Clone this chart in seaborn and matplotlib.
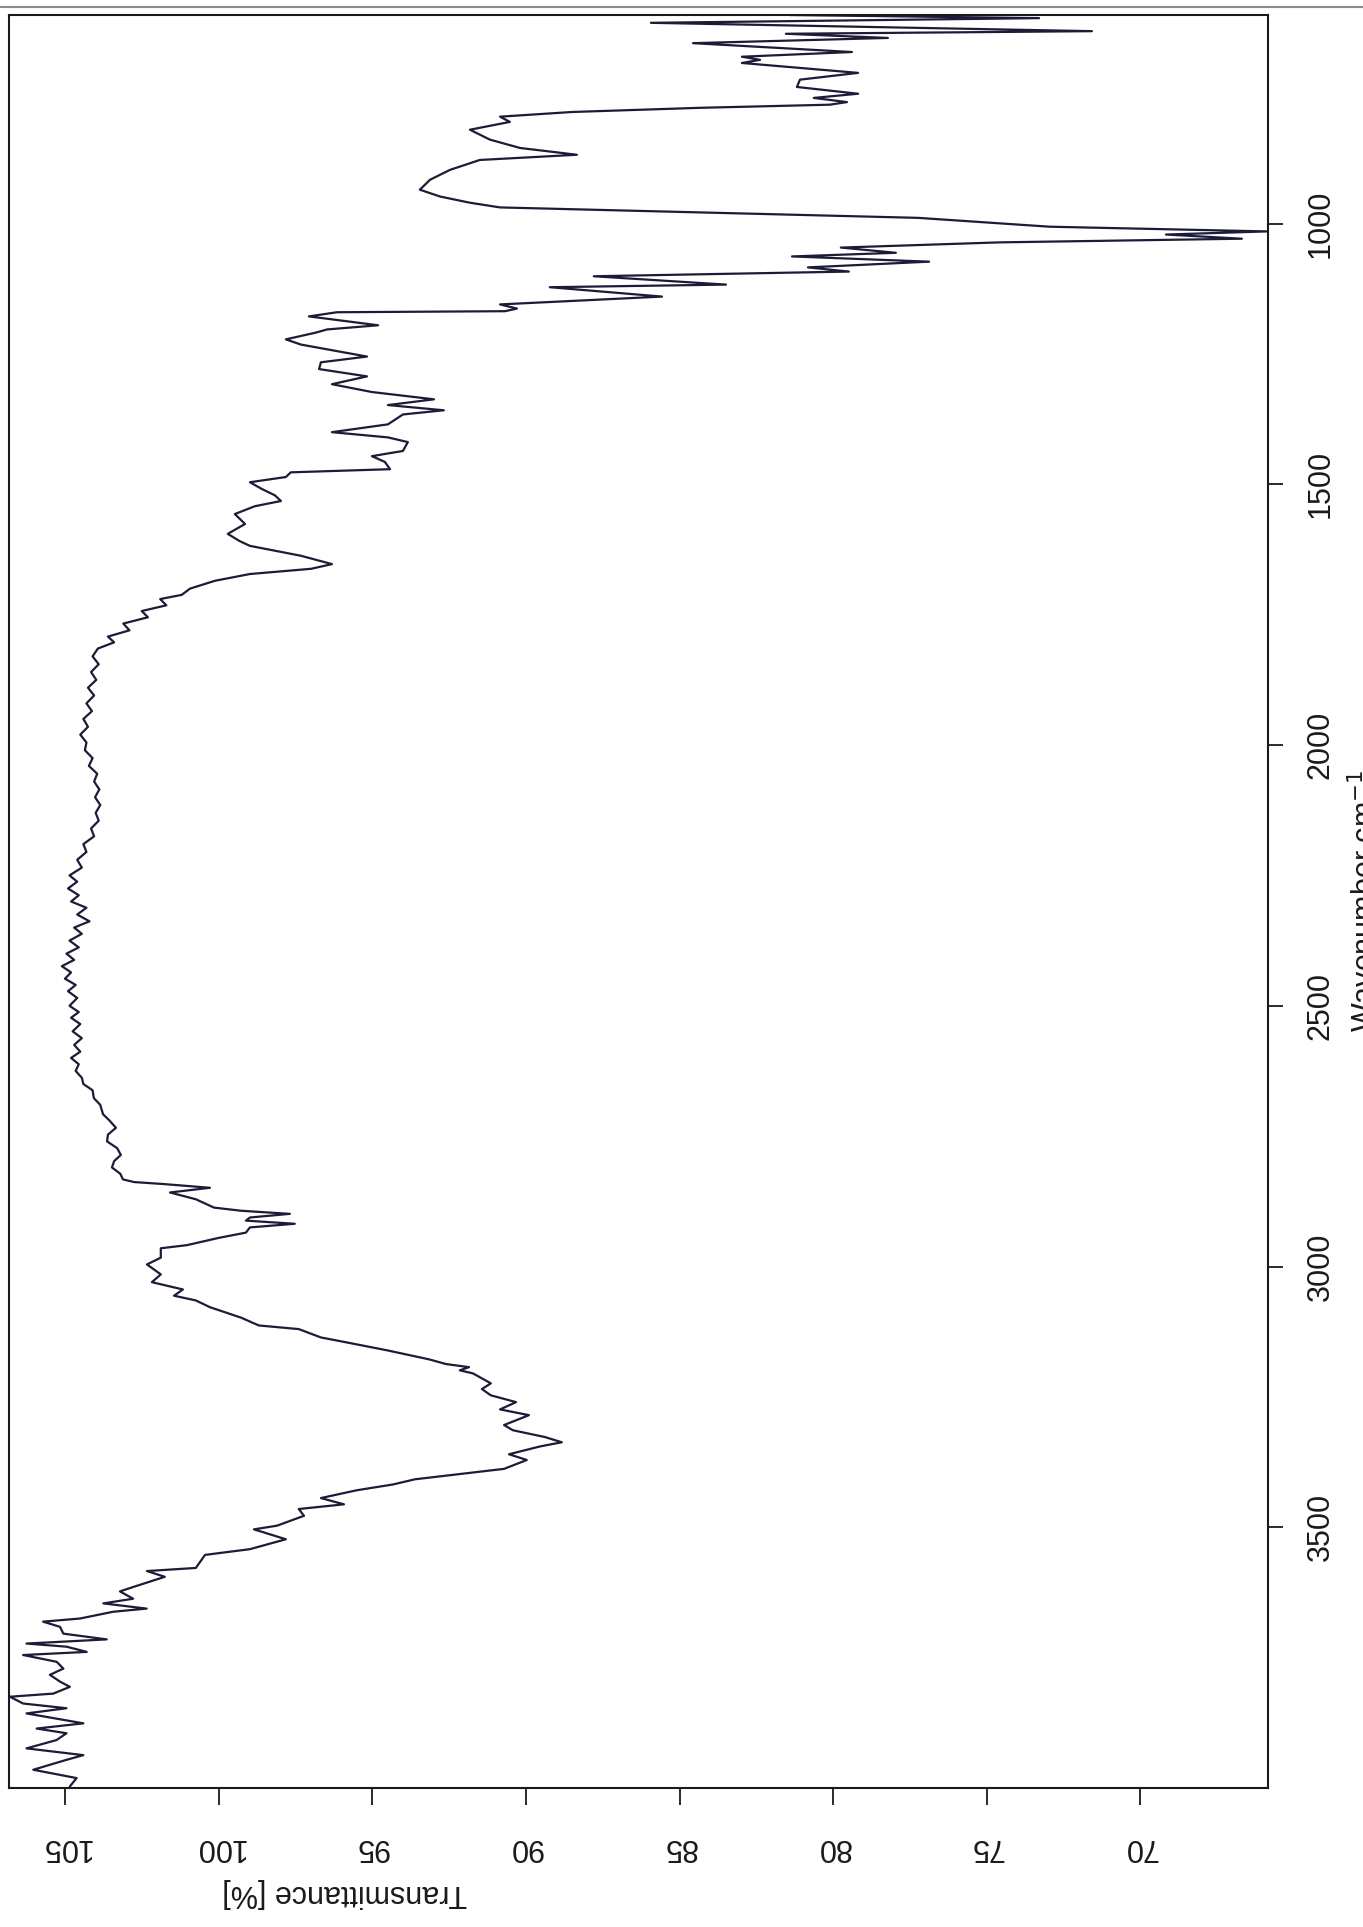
import matplotlib
matplotlib.use("Agg")
import matplotlib.pyplot as plt
from matplotlib.lines import Line2D
import numpy as np
import pandas as pd
import seaborn as sns

# ---- data (wavenumber in cm-1, transmittance in %) ----
fp_wn = [600, 606, 615, 631, 636, 644, 654, 671, 680, 686, 692, 711, 724, 738, 751, 759, 767, 772, 778, 786,
         795, 805, 820, 839, 855, 868, 878, 897, 916, 935, 948, 960, 969, 989, 1006, 1015, 1021, 1029, 1036, 1046,
         1056, 1063, 1073, 1084, 1092, 1101, 1117, 1122, 1140, 1155, 1163, 1168, 1170, 1178, 1195, 1203, 1209, 1222, 1232, 1255,
         1266, 1279, 1293, 1308, 1323, 1337, 1348, 1358, 1366, 1385, 1400, 1410, 1419, 1436, 1446, 1457, 1471, 1477, 1486, 1496,
         1509, 1521, 1532, 1542, 1557, 1576, 1595, 1609, 1618, 1637, 1653, 1662, 1672, 1685, 1700, 1712, 1720, 1732, 1743, 1755,
         1767, 1780, 1792, 1803]
fp_t = [81.41, 73.30, 85.93, 71.58, 81.54, 78.22, 84.56, 79.39, 82.97, 82.38, 82.97, 79.19, 81.08, 81.18, 79.19, 80.63, 79.55, 80.11, 84.34, 88.50,
        90.84, 90.52, 91.82, 91.17, 90.19, 88.34, 91.50, 92.47, 93.12, 93.45, 92.80, 91.82, 90.84, 77.24, 72.95, 65.89, 69.17, 66.70, 74.57, 79.75,
        77.96, 81.34, 76.88, 80.82, 79.49, 87.79, 83.49, 89.22, 85.57, 90.84, 90.29, 90.68, 96.15, 97.06, 94.81, 96.47, 96.83, 97.81, 97.32, 95.17,
        96.67, 96.73, 95.17, 96.31, 95.01, 92.99, 94.49, 92.67, 94.00, 94.49, 96.31, 94.49, 93.84, 94.00, 95.01, 94.59, 94.42, 97.65, 97.81, 98.98,
        98.59, 98.17, 97.97, 98.82, 99.47, 99.14, 99.70, 99.31, 98.98, 97.32, 96.31, 96.99, 98.98, 100.12, 100.93, 101.20, 101.90, 101.70, 102.50, 102.30,
        103.10, 102.90, 103.60, 103.40]

plat_wn = [1815, 1830, 1845, 1860, 1875, 1890, 1905, 1920, 1935, 1950, 1965, 1980, 1995, 2010, 2025, 2040, 2055, 2070, 2085, 2100,
           2115, 2130, 2145, 2160, 2175, 2190, 2205, 2220, 2235, 2250, 2262, 2275, 2288, 2300, 2312, 2325, 2338, 2350, 2362, 2375,
           2388, 2400, 2412, 2424, 2436, 2448, 2460, 2472, 2485, 2500, 2512, 2523, 2535, 2549, 2562, 2575, 2588, 2600, 2612, 2625,
           2638, 2650, 2662, 2677, 2690, 2708, 2720, 2734, 2747, 2760, 2773, 2786, 2798, 2810, 2822, 2833]
plat_t = [103.93, 104.10, 103.90, 104.15, 103.98, 104.25, 104.05, 104.30, 104.12, 104.40, 104.25, 104.50, 104.30, 104.35, 104.10, 104.22, 103.95, 104.05, 103.88, 104.02,
          103.85, 104.00, 103.90, 104.15, 104.05, 104.40, 104.30, 104.60, 104.45, 104.85, 104.60, 104.90, 104.55, 104.80, 104.30, 104.60, 104.20, 104.70, 104.45, 104.85,
          104.55, 104.95, 104.70, 105.10, 104.80, 105.00, 104.65, 104.90, 104.60, 104.85, 104.55, 104.80, 104.50, 104.75, 104.45, 104.70, 104.50, 104.80, 104.55, 104.65,
          104.45, 104.40, 104.10, 104.06, 103.85, 103.76, 103.55, 103.34, 103.60, 103.63, 103.30, 103.18, 103.40, 103.47, 103.20, 103.11]

ch_wn = [2838, 2842, 2849, 2858, 2871, 2887, 2893, 2899, 2906, 2912, 2918, 2925, 2935, 2945, 2959, 2965, 2983, 2996, 3015, 3030,
         3044, 3056, 3065, 3078, 3098, 3113, 3120, 3136, 3146, 3161, 3178, 3187, 3193, 3199, 3205, 3224, 3235, 3247, 3260, 3274,
         3285, 3304, 3314, 3327, 3337, 3345, 3360, 3371, 3388, 3398, 3408, 3418, 3429, 3444, 3456, 3465, 3478, 3497, 3504, 3523,
         3542, 3553, 3578, 3584, 3595, 3614, 3623]
ch_t = [102.75, 101.75, 100.28, 101.58, 100.74, 100.15, 99.27, 97.68, 98.98, 99.11, 97.52, 98.98, 99.11, 99.99, 101.03, 101.88, 101.88, 102.33, 101.88, 102.17,
        101.16, 101.45, 100.74, 100.28, 99.27, 98.69, 97.39, 96.67, 95.79, 94.49, 93.15, 92.60, 91.85, 92.15, 91.72, 91.14, 91.43, 91.14, 90.32, 90.84,
        89.90, 90.71, 90.42, 89.38, 88.83, 89.54, 90.55, 89.97, 90.71, 92.15, 93.61, 94.33, 95.50, 96.67, 95.92, 97.39, 97.22, 98.10, 98.85, 97.81,
        98.98, 100.44, 100.74, 102.33, 101.75, 102.75, 103.21]

hi_wn = [3637, 3646, 3656, 3662, 3675, 3681, 3691, 3704, 3715, 3723, 3729, 3739, 3745, 3758, 3771, 3783, 3796, 3806, 3819, 3825,
         3838, 3847, 3857, 3876, 3886, 3895, 3908, 3924, 3937, 3946, 3965, 3981, 3997]
hi_t = [102.78, 103.75, 102.34, 103.43, 104.51, 105.71, 105.16, 105.05, 103.64, 106.25, 104.95, 104.29, 106.36, 105.27, 105.05, 105.49, 105.16, 104.84, 105.38, 106.79,
        106.36, 104.95, 106.25, 104.40, 105.92, 104.95, 105.27, 106.25, 104.40, 104.95, 106.03, 104.62, 104.84]

t_ticks = [70, 75, 80, 85, 90, 95, 100, 105]
wn_ticks = [1000, 1500, 2000, 2500, 3000, 3500]
x_title = "Transmittance [%]"
y_title = "Wavenumber cm$^{-1}$"

# ---- build frame ----
df = pd.DataFrame({
    "wavenumber": fp_wn + plat_wn + ch_wn + hi_wn,
    "transmittance": fp_t + plat_t + ch_t + hi_t,
})

sns.set_theme(style="white")
plt.rcParams["font.family"] = ["Liberation Sans", "DejaVu Sans"]

W, H = 1363, 1927
fig = plt.figure(figsize=(W / 100, H / 100), dpi=100)
fig.patch.set_facecolor("white")
ax = fig.add_axes([9 / W, 1 - 1788 / H, 1259 / W, 1773 / H])
ax.set_facecolor("white")

sns.lineplot(data=df, x="transmittance", y="wavenumber", sort=False, orient="y",
             estimator=None, color="#1c1c38", linewidth=1.6, ax=ax)

ax.set_xlim(106.82, 65.85)
ax.set_ylim(4000, 600)

ax.set_xticks(t_ticks)
ax.set_xticklabels([str(t) for t in t_ticks], rotation=180)
ax.yaxis.tick_right()
ax.set_yticks(wn_ticks)
ax.set_yticklabels([str(w) for w in wn_ticks], rotation=90, va="center")

ax.tick_params(axis="x", bottom=True, direction="out", length=12, width=1.3,
               pad=20, labelsize=22, colors="#1a1a1a")
ax.tick_params(axis="y", right=True, left=False, direction="out", length=11, width=1.3,
               pad=16, labelsize=22, colors="#1a1a1a")
for sp in ax.spines.values():
    sp.set_visible(True)
    sp.set_color("#1a1a1a")
    sp.set_linewidth(1.5)
ax.set_xlabel("")
ax.set_ylabel("")

fig.text(345 / W, 1 - 1893 / H, x_title, rotation=180, ha="center", va="center",
         fontsize=22, color="#1a1a1a")
fig.text(1350 / W, 1 - 901 / H, y_title, rotation=90, ha="left", va="center",
         fontsize=22, color="#1a1a1a")

# scan page border at the top
fig.add_artist(Line2D([0, 1], [1 - 7 / H, 1 - 7 / H], color="#8a8a8a", linewidth=1.5,
                      transform=fig.transFigure))

fig.savefig("out.png", dpi=100, facecolor="white")
